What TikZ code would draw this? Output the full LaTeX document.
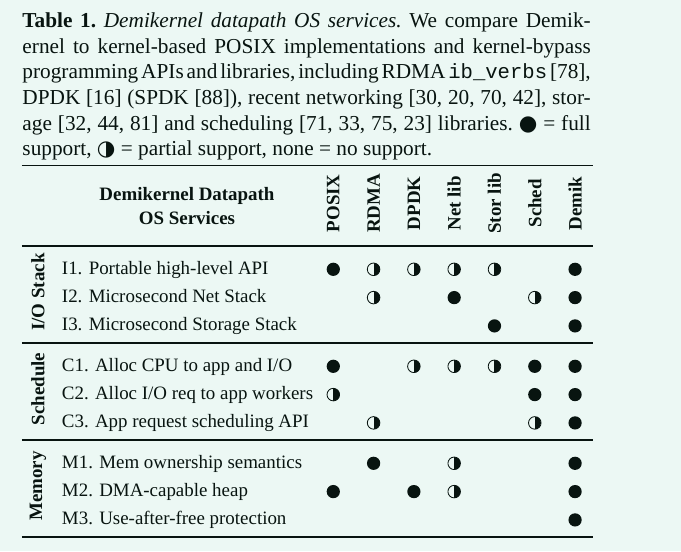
\documentclass[tikz,border=0pt]{standalone}
\usepackage{fontspec}
\setmainfont{Liberation Serif}
\setmonofont{Liberation Mono}
\newfontfamily\symfont{DejaVu Sans}

\definecolor{mint}{RGB}{236,248,244}
\definecolor{ink}{RGB}{8,20,16}

\tikzset{
	full/.style={circle, fill=ink, inner sep=0pt, minimum size=5.6pt},
	part/.style={circle, draw=ink, line width=0.35pt, inner sep=0pt, minimum size=5.3pt,
		path picture={\fill[ink] (path picture bounding box.north) rectangle (path picture bounding box.south east);}},
	colhead/.style={rotate=90, inner sep=0pt, text=ink, font=\fontsize{8}{9.6}\selectfont\bfseries},
	grphead/.style={rotate=90, inner sep=0pt, text=ink, font=\fontsize{8}{9.6}\selectfont\bfseries},
	rowlab/.style={anchor=base west, inner sep=0pt, text=ink, font=\fontsize{8}{9.6}\selectfont},
	tablerule/.style={draw=ink, line width=#1},
}

\begin{document}
\begin{tikzpicture}[x=0.4228pt, y=-0.4228pt]
	\fill[mint] (0,0) rectangle (681,551);
	\useasboundingbox (0,0) rectangle (681,551);
	\node[anchor=north west, inner sep=0pt, text width=240.3pt, align=justify, text=ink,
		font=\fontsize{9}{10.83}\selectfont] (cap) at (22,12.4)
		{\frenchspacing\spaceskip=2.25pt plus 1.5pt minus 1.4pt
		\textbf{Table 1.} \textit{Demikernel datapath OS services.} We compare Demik-\linebreak
		ernel to kernel-based POSIX implementations and kernel-bypass\linebreak
		programming APIs and libraries, including RDMA {\fontsize{8.7}{10.8}\selectfont\ttfamily ib\_verbs} [78],\linebreak
		DPDK [16] (SPDK [88]), recent networking [30, 20, 70, 42], stor-\linebreak
		age [32, 44, 81] and scheduling [71, 33, 75, 23] libraries. {\symfont ●} = full\linebreak
		support, {\symfont ◑} = partial support, none = no support.};
	\draw[tablerule=0.8pt] (22,165.5) -- (593,165.5);
	\foreach \g in {0,1,2} {
		\draw[tablerule=0.5pt] (22,246+97*\g) -- (593,246+97*\g);
	}
	\draw[tablerule=0.8pt] (22,537) -- (593,537);
	\node[anchor=north, inner sep=0pt, align=center, text=ink,
		font=\fontsize{8}{10.1}\selectfont\bfseries] (head) at (187,187) {Demikernel Datapath\\OS Services};
	\foreach \c/\name in {1/POSIX,2/RDMA,3/DPDK,4/Net lib,5/Stor lib,6/Sched,7/Demik} {
		\pgfmathsetmacro{\x}{333.3+40.3*(\c-1)};
		\node[colhead] (col-\c) at (\x,203.3) {\name};
	}
	\foreach \g/\name in {0/{I/O Stack},1/Schedule,2/Memory} {
		\node[grphead] (grp-\g) at (38,292+97*\g) {\name};
	}
	\foreach \r/\lab/\marks in {
		1/{I1. Portable high-level API}/{1/full,2/part,3/part,4/part,5/part,7/full},
		2/{I2. Microsecond Net Stack}/{2/part,4/full,6/part,7/full},
		3/{I3. Microsecond Storage Stack}/{5/full,7/full},
		4/{C1. Alloc CPU to app and I/O}/{1/full,3/part,4/part,5/part,6/full,7/full},
		5/{C2. Alloc I/O req to app workers}/{1/part,6/full,7/full},
		6/{C3. App request scheduling API}/{2/part,6/part,7/full},
		7/{M1. Mem ownership semantics}/{2/full,4/part,7/full},
		8/{M2. DMA-capable heap}/{1/full,3/full,4/part,7/full},
		9/{M3. Use-after-free protection}/{7/full}} {
		\pgfmathsetmacro{\y}{269.3+97*int((\r-1)/3)+28.3*mod(\r-1,3)};
		\node[rowlab] (row-\r) at (61.5,\y+5) {\lab};
		\foreach \c/\kind in \marks {
			\pgfmathsetmacro{\x}{333.3+40.3*(\c-1)};
			\node[\kind] (mark-\r-\c) at (\x,\y) {};
		}
	}
\end{tikzpicture}
\end{document}
